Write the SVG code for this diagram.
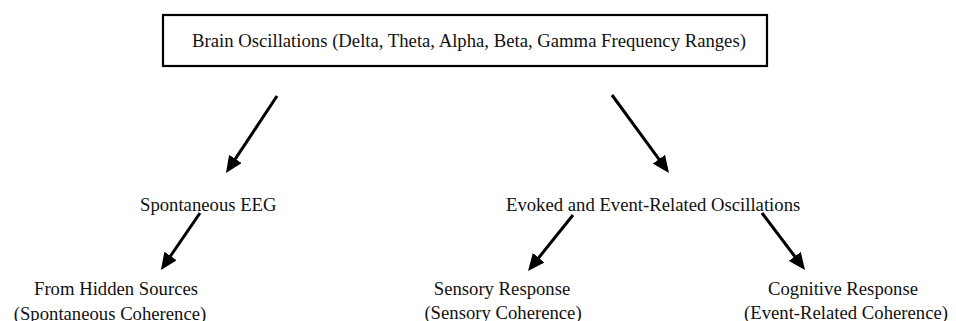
<svg xmlns="http://www.w3.org/2000/svg" width="956" height="321" viewBox="0 0 956 321">
<style>
text { font-family: "Liberation Serif", "Times New Roman", serif; font-size: 18.7px; fill: #111; }
.box { fill: #fff; stroke: #000; stroke-width: 2.2; }
.conn line { stroke: #000; stroke-width: 3; marker-end: url(#ah); }
</style>
<defs>
<marker id="ah" markerUnits="userSpaceOnUse" markerWidth="17" markerHeight="15" viewBox="0 0 17 15" refX="7" refY="7.5" orient="auto">
<path d="M0,0 L17,7.5 L0,15 z" fill="#000"/>
</marker>
</defs>
<rect width="956" height="321" fill="#fff"/>
<g id="brain-oscillations">
<rect class="box" x="163" y="15" width="604" height="51"/>
<text x="192" y="47">Brain Oscillations (Delta, Theta, Alpha, Beta, Gamma Frequency Ranges)</text>
</g>
<g id="spontaneous-eeg">
<text x="140" y="211">Spontaneous EEG</text>
</g>
<g id="evoked">
<text x="506" y="211">Evoked and Event-Related Oscillations</text>
</g>
<g id="hidden-sources">
<text x="116" y="295" text-anchor="middle">From Hidden Sources</text>
<text x="110" y="320" text-anchor="middle">(Spontaneous Coherence)</text>
</g>
<g id="sensory">
<text x="502" y="295" text-anchor="middle">Sensory Response</text>
<text x="503" y="319" text-anchor="middle">(Sensory Coherence)</text>
</g>
<g id="cognitive">
<text x="843" y="295" text-anchor="middle">Cognitive Response</text>
<text x="846" y="319" text-anchor="middle">(Event-Related Coherence)</text>
</g>
<g id="connectors" class="conn">
<line x1="277" y1="96" x2="231.5" y2="164.7"/>
<line x1="612" y1="95" x2="663.1" y2="164.9"/>
<line x1="200" y1="213" x2="166.6" y2="261.7"/>
<line x1="573" y1="215" x2="534.3" y2="263.2"/>
<line x1="762" y1="213" x2="799" y2="262"/>
</g>
</svg>
